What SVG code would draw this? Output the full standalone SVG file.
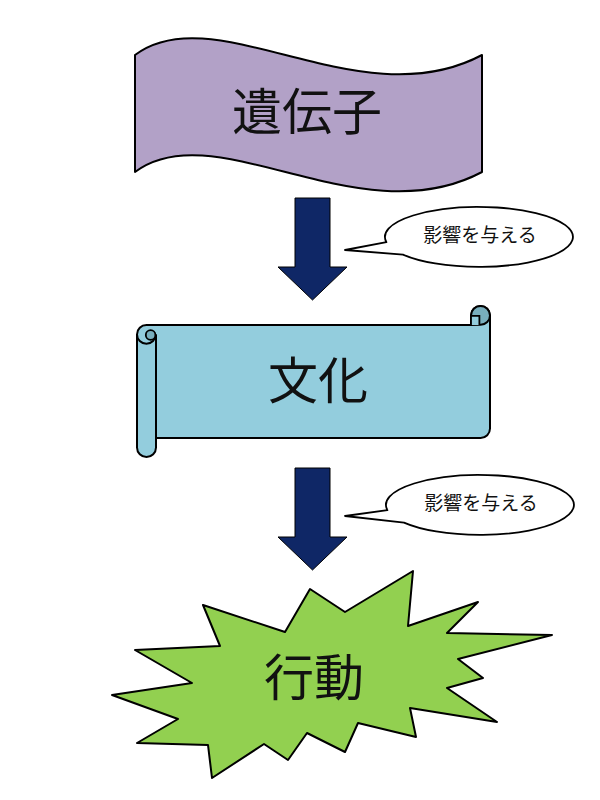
<svg xmlns="http://www.w3.org/2000/svg" width="600" height="800" viewBox="0 0 600 800">
<style>
.shape{stroke:#000;stroke-width:2;stroke-linejoin:round}
.big{font-family:"Noto Sans CJK JP","Noto Sans",sans-serif;font-size:50px;fill:#111;text-anchor:middle}
.small{font-family:"Noto Sans CJK JP","Noto Sans",sans-serif;font-size:19px;fill:#111;text-anchor:middle}
.arrow{fill:#0f2766;stroke:#000;stroke-width:1}
.callout{fill:#fff;stroke:#000;stroke-width:1.8;stroke-linejoin:round}
</style>
<rect width="600" height="800" fill="#fff"/>
<g id="node-gene">
<path class="shape" fill="#b2a1c7" d="M135,55 C215,-5 360,120 482,55 L482,172 C360,237 215,112 135,172 Z"/>
<text class="big" x="307" y="130">遺伝子</text>
</g>
<g id="node-culture">
<path class="shape" fill="#93cddd" d="M137,334.4 A9.4,9.4 0 0 1 146.4,325 L471,325 L471,315.4 A9.4,9.4 0 0 1 490,315.4 L490,428.6 A9.4,9.4 0 0 1 480.6,438 L156,438 L156,447.6 A9.4,9.4 0 0 1 137,447.6 Z"/>
<path fill="#78aebd" stroke="#000" stroke-width="2" d="M471,325 L471,315.4 A9.4,9.4 0 0 1 490,315.4 A9.4,9.4 0 0 1 480.6,324.8 Z"/>
<path fill="#93cddd" stroke="#000" stroke-width="1.8" d="M471,325 L471,315.8 L479.4,315.8 L479.4,325"/>
<path fill="none" stroke="#000" stroke-width="2" d="M156,438 L156,334.4"/>
<path fill="none" stroke="#000" stroke-width="2" d="M137,334.4 A9.4,9.4 0 0 0 146.4,343.8 A9.4,9.4 0 0 0 155.8,334.4"/>
<circle cx="150.6" cy="335" r="4.8" fill="#78aebd" stroke="#000" stroke-width="1.8"/>
<text class="big" x="318" y="399">文化</text>
</g>
<g id="node-behavior">
<path class="shape" fill="#92d050" d="M112,695 L192,683 L135,650 L220,646 L203,605 L285,632 L310,589 L345,612 L413,571 L408,626 L478,602 L447,633 L552,635 L458,659 L483,678 L447,688 L497,722 L410,708 L416,737 L358,723 L345,752 L307,733 L288,760 L264,744 L212,778 L208,745 L137,743 L178,719 Z"/>
<text class="big" x="314" y="696">行動</text>
</g>
<g id="connectors">
<polygon class="arrow" points="295,198 330,198 330,267 347,267 312.5,300 278,267 295,267"/>
<polygon class="arrow" points="295,468 330,468 330,537 347,537 312.5,570 278,537 295,537"/>
</g>
<g id="label-1">
<path class="callout" d="M386.4,242.2 L345,250 L403,254.6 A94,30 0 1 0 386.4,242.2 Z"/>
<text class="small" x="480" y="242">影響を与える</text>
</g>
<g id="label-2">
<path class="callout" d="M387.4,510.2 L345,516 L404,522.6 A94,30 0 1 0 387.4,510.2 Z"/>
<text class="small" x="481" y="510">影響を与える</text>
</g>
</svg>
